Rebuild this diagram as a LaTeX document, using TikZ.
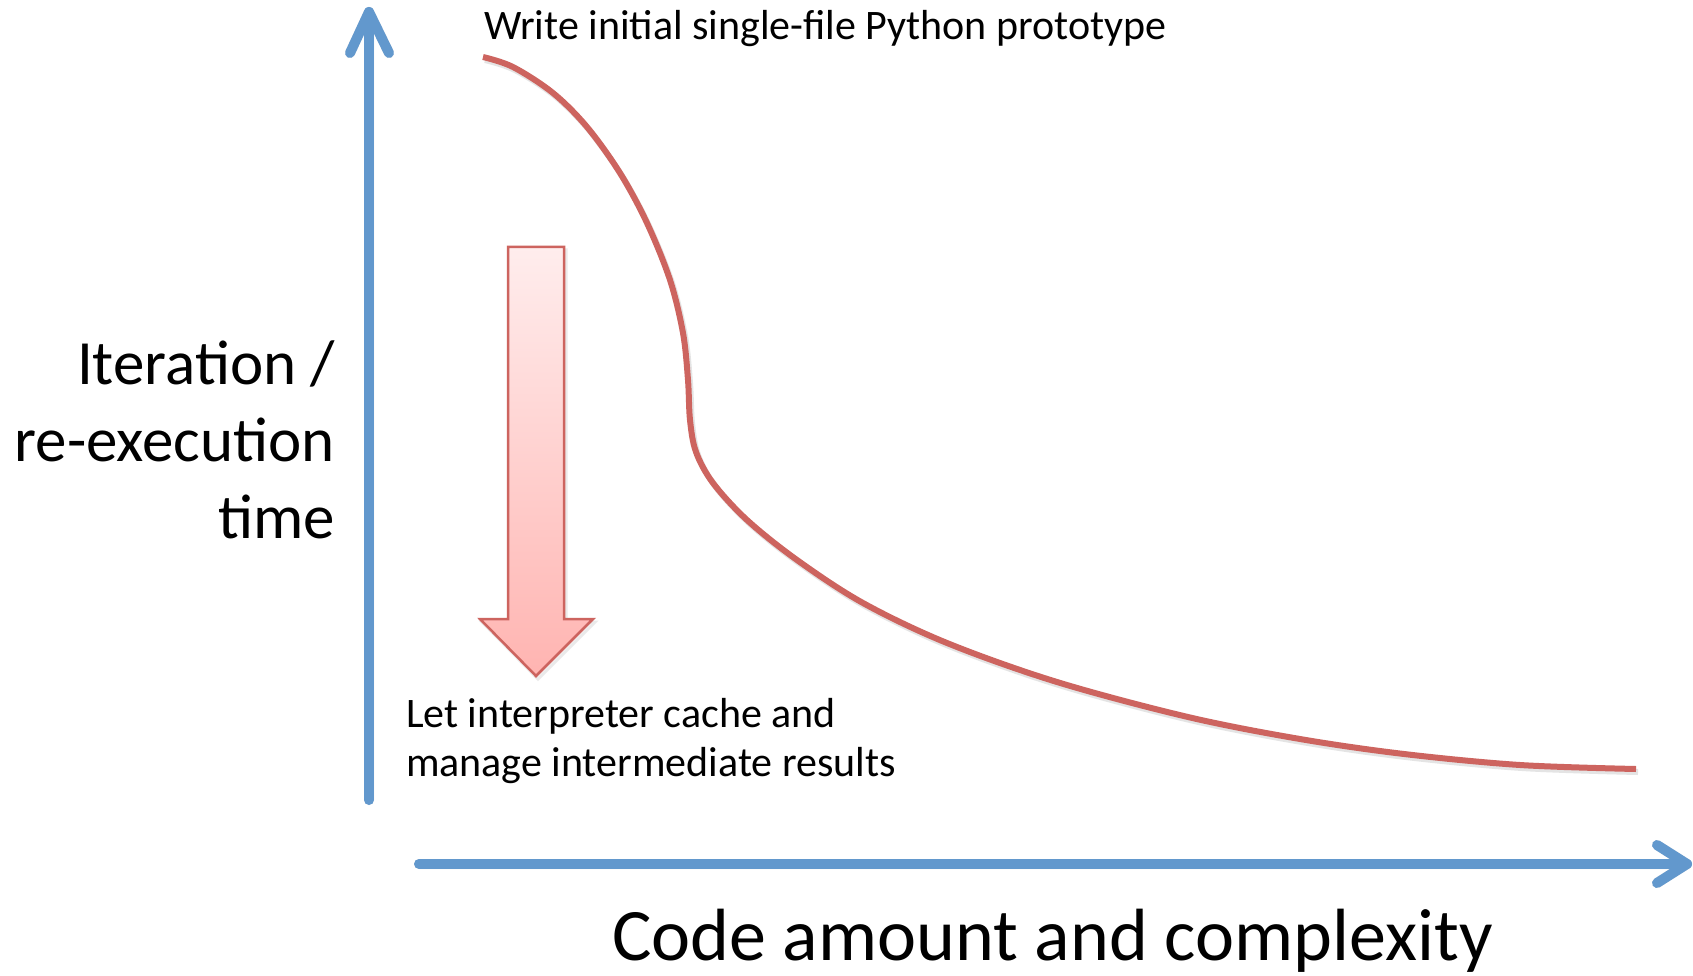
\documentclass[tikz,border=0pt]{standalone}
\usepackage{fontspec}
\setmainfont{Carlito}
\definecolor{axisblue}{RGB}{98,152,205}
\definecolor{curvered}{RGB}{205,100,95}
\definecolor{pinktop}{RGB}{255,237,237}
\definecolor{pinkbot}{RGB}{255,180,177}
\definecolor{shadowgray}{RGB}{150,150,150}
\tikzset{
  axisline/.style={draw=axisblue,line width=10pt,line cap=round,line join=round},
  curveline/.style={draw=curvered,line width=6pt},
  shadowline/.style={draw=shadowgray,opacity=0.25},
  lbl/.style={inner sep=0pt,outer sep=0pt,text=black},
}
\begin{document}
\begin{tikzpicture}[x=1pt,y=-1pt]
\useasboundingbox[fill=white] (0,0) rectangle (1693,976);
% axes coordinates
\coordinate (vbot) at (369,800);
\coordinate (vtop) at (369,12);
\coordinate (vwl) at (350,53);
\coordinate (vwr) at (389,53);
\coordinate (hleft) at (419,864);
\coordinate (hright) at (1687,864);
\coordinate (hwt) at (1657,845);
\coordinate (hwb) at (1657,883);
% shadows
\draw[shadowline,line width=10pt,line cap=round,line join=round,xshift=2pt,yshift=-3pt] (vbot) -- (vtop) (vwl) -- (vtop) -- (vwr);
\draw[shadowline,line width=10pt,line cap=round,line join=round,xshift=2pt,yshift=-3pt] (hleft) -- (hright) (hwt) -- (hright) -- (hwb);
% axes
\draw[axisline] (vbot) -- (vtop);
\draw[axisline] (vwl) -- (vtop) -- (vwr);
\draw[axisline] (hleft) -- (hright);
\draw[axisline] (hwt) -- (hright) -- (hwb);
% curve
\def\curvepts{(483,57) (513,67) (553,93) (587,127) (620,173) (647,223) (670,280) (683,333) (688,380) (690,420) (696,452) (713,483) (747,520) (797,560) (863,603) (947,643) (1057,682) (1188,717) (1300,739) (1404,754) (1520,765) (1636,769)}
\draw[shadowline,line width=6pt,xshift=2pt,yshift=-3pt] plot[smooth,tension=0.55] coordinates {\curvepts};
\draw[curveline] plot[smooth,tension=0.55] coordinates {\curvepts};
% pink arrow
\path[draw=shadowgray,opacity=0.2,line width=3pt,xshift=2pt,yshift=-3pt,line join=miter]
  (508,247) -- (564,247) -- (564,619) -- (593,619) -- (536,676) -- (480,619) -- (508,619) -- cycle;
\path[draw=curvered,line width=2.5pt,line join=miter,top color=pinktop,bottom color=pinkbot]
  (508,247) -- (564,247) -- (564,619) -- (593,619) -- (536,676) -- (480,619) -- (508,619) -- cycle;
% labels
\node[lbl,anchor=base west,font=\fontsize{42}{50}\selectfont] (title) at (484,40) {Write initial single-file Python prototype};
\node[lbl,anchor=base west,font=\fontsize{42}{50}\selectfont] (let1) at (406,727) {Let interpreter cache and};
\node[lbl,anchor=base west,font=\fontsize{42}{50}\selectfont] (let2) at (406,776) {manage intermediate results};
\node[lbl,anchor=base east,font=\fontsize{63}{76}\selectfont] (yl1) at (335,384) {Iteration /};
\node[lbl,anchor=base east,font=\fontsize{63}{76}\selectfont] (yl2) at (335,461) {re-execution};
\node[lbl,anchor=base east,font=\fontsize{63}{76}\selectfont] (yl3) at (335,538) {time};
\node[lbl,anchor=base west,font=\fontsize{74}{88}\selectfont] (xl) at (612,960) {Code amount and complexity};
\end{tikzpicture}
\end{document}
